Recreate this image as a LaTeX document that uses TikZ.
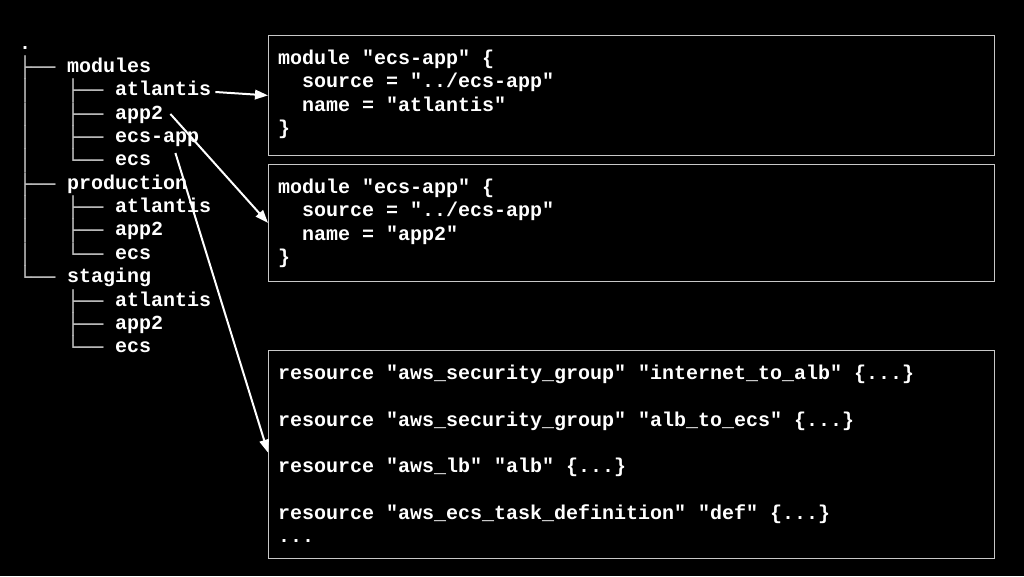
\documentclass[tikz,border=0pt]{standalone}
\usepackage{fontspec}
\newfontfamily\codefont{Liberation Mono}
\newfontfamily\treefont{DejaVu Sans Mono}
\usetikzlibrary{arrows.meta}
\definecolor{boxgray}{HTML}{C8C8C8}
\definecolor{treegray}{HTML}{BEBEBE}
\begin{document}
\begin{tikzpicture}[x=1pt,y=-1pt,
  code/.style={font=\codefont\bfseries\fontsize{20}{23.35}\selectfont, text=white, inner sep=0pt, anchor=base west},
  glyph/.style={font=\treefont\fontsize{20}{23.35}\selectfont, text=treegray, inner sep=0pt, anchor=base west, yshift=-2pt},
  codebox/.style={draw=boxgray, line width=1.3pt, inner sep=0pt, minimum width=726pt, anchor=north west},
  conn/.style={draw=white, line width=2pt, -{Triangle[length=13pt,width=9.5pt]}}]
\fill[black] (0,0) rectangle (1024,576);
\useasboundingbox (0,0) rectangle (1024,576);

% tree
\node[code] (t0) at (19,49.15) {.};
\node[glyph] (g1a) at (19,72.5) {├──};
\node[code] (t1) at (67,72.5) {modules};
\node[glyph] (g2a) at (19,95.85) {│};
\node[glyph] (g2b) at (67,95.85) {├──};
\node[code] (atl) at (115,95.85) {atlantis};
\node[glyph] (g3a) at (19,119.2) {│};
\node[glyph] (g3b) at (67,119.2) {├──};
\node[code] (app) at (115,119.2) {app2};
\node[glyph] (g4a) at (19,142.55) {│};
\node[glyph] (g4b) at (67,142.55) {├──};
\node[code] (t4) at (115,142.55) {ecs-app};
\node[glyph] (g5a) at (19,165.9) {│};
\node[glyph] (g5b) at (67,165.9) {└──};
\node[code] (ecs) at (115,165.9) {ecs};
\node[glyph] (g6a) at (19,189.25) {├──};
\node[code] (t6) at (67,189.25) {production};
\node[glyph] (g7a) at (19,212.6) {│};
\node[glyph] (g7b) at (67,212.6) {├──};
\node[code] (t7) at (115,212.6) {atlantis};
\node[glyph] (g8a) at (19,235.95) {│};
\node[glyph] (g8b) at (67,235.95) {├──};
\node[code] (t8) at (115,235.95) {app2};
\node[glyph] (g9a) at (19,259.3) {│};
\node[glyph] (g9b) at (67,259.3) {└──};
\node[code] (t9) at (115,259.3) {ecs};
\node[glyph] (g10a) at (19,282.65) {└──};
\node[code] (t10) at (67,282.65) {staging};
\node[glyph] (g11b) at (67,306) {├──};
\node[code] (t11) at (115,306) {atlantis};
\node[glyph] (g12b) at (67,329.35) {├──};
\node[code] (t12) at (115,329.35) {app2};
\node[glyph] (g13b) at (67,352.7) {└──};
\node[code] (t13) at (115,352.7) {ecs};

% boxes
\node[codebox, minimum height=119.5pt] (box1) at (268,35) {};
\node[codebox, minimum height=117.5pt] (box2) at (268,163.5) {};
\node[codebox, minimum height=208pt] (box3) at (268,350) {};

\node[code] (b1l1) at (278,64.3) {module "ecs-app" \{};
\node[code] (b1l2) at (278,87.65) {~~source = "../ecs-app"};
\node[code] (b1l3) at (278,111) {~~name = "atlantis"};
\node[code] (b1l4) at (278,134.35) {\}};

\node[code] (b2l1) at (278,193.3) {module "ecs-app" \{};
\node[code] (b2l2) at (278,216.65) {~~source = "../ecs-app"};
\node[code] (b2l3) at (278,240) {~~name = "app2"};
\node[code] (b2l4) at (278,263.35) {\}};

\node[code] (b3l1) at (278,379.3) {resource "aws\_security\_group" "internet\_to\_alb" \{...\}};
\node[code] (b3l2) at (278,426) {resource "aws\_security\_group" "alb\_to\_ecs" \{...\}};
\node[code] (b3l3) at (278,472.7) {resource "aws\_lb" "alb" \{...\}};
\node[code] (b3l4) at (278,519.4) {resource "aws\_ecs\_task\_definition" "def" \{...\}};
\node[code] (b3l5) at (278,542.7) {...};

% connectors
\draw[conn] ([xshift=4pt,yshift=3.85pt]atl.base east) -- (box1.west);
\draw[conn] ([xshift=7pt,yshift=5.2pt]app.base east) -- (box2.west);
\draw[conn] ([xshift=24pt,yshift=12.9pt]ecs.base east) -- ([yshift=2pt]box3.west);
\end{tikzpicture}
\end{document}
